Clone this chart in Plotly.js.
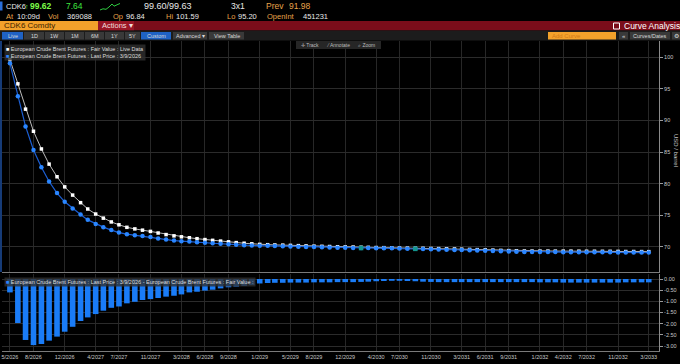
<!DOCTYPE html>
<html>
<head>
<meta charset="utf-8">
<script src="https://cdn.plot.ly/plotly-3.0.1.min.js"></script>
<style>html,body{margin:0;padding:0;background:#000;}#chart{width:680px;height:364px;}</style>
</head>
<body>
<div id="chart"></div>
<script>
// ---------- DATA ----------
const months = [
 '2026-05-01','2026-06-01','2026-07-01','2026-08-01','2026-09-01','2026-10-01','2026-11-01','2026-12-01',
 '2027-01-01','2027-02-01','2027-03-01','2027-04-01','2027-05-01','2027-06-01','2027-07-01','2027-08-01','2027-09-01','2027-10-01','2027-11-01','2027-12-01',
 '2028-01-01','2028-02-01','2028-03-01','2028-04-01','2028-05-01','2028-06-01','2028-07-01','2028-08-01','2028-09-01','2028-10-01','2028-11-01','2028-12-01',
 '2029-01-01','2029-02-01','2029-03-01','2029-04-01','2029-05-01','2029-06-01','2029-07-01','2029-08-01','2029-09-01','2029-10-01','2029-11-01','2029-12-01',
 '2030-01-01','2030-02-01','2030-03-01','2030-04-01','2030-05-01','2030-06-01','2030-07-01','2030-08-01','2030-09-01','2030-10-01','2030-11-01','2030-12-01',
 '2031-01-01','2031-02-01','2031-03-01','2031-04-01','2031-05-01','2031-06-01','2031-07-01','2031-08-01','2031-09-01','2031-10-01','2031-11-01','2031-12-01',
 '2032-01-01','2032-02-01','2032-03-01','2032-04-01','2032-05-01','2032-06-01','2032-07-01','2032-08-01','2032-09-01','2032-10-01','2032-11-01','2032-12-01',
 '2033-01-01','2033-02-01','2033-03-01'];

const fairValue = [
 99.65,95.8,91.8,88.3,85.5,83.1,81.1,79.5,78.2,77.0,76.0,75.2,74.55,73.95,73.5,73.1,72.85,72.65,72.45,72.2,
 71.95,71.75,71.6,71.45,71.30,71.16,71.04,70.92,70.80,70.68,70.58,70.49,70.40,70.35,70.31,70.28,70.24,70.20,70.16,70.12,
 70.09,70.06,70.02,70.00,69.98,69.95,69.93,69.90,69.88,69.85,69.83,69.81,69.79,69.78,69.75,69.73,69.70,69.67,69.64,69.60,
 69.57,69.53,69.49,69.45,69.41,69.38,69.35,69.34,69.34,69.34,69.33,69.33,69.33,69.32,69.31,69.31,69.30,69.30,69.29,69.27,
 69.27,69.26,69.25];

const lastPrice = [
 99.05,93.83,89.07,85.34,82.59,80.34,78.52,77.14,76.06,75.12,74.28,73.63,73.13,72.66,72.27,72.01,71.83,71.71,71.55,71.35,
 71.16,71.0,70.91,70.85,70.73,70.64,70.56,70.50,70.43,70.34,70.27,70.22,70.20,70.17,70.14,70.11,70.08,70.04,70.00,69.97,
 69.94,69.91,69.88,69.86,69.84,69.82,69.81,69.80,69.79,69.77,69.75,69.72,69.69,69.66,69.62,69.59,69.56,69.53,69.50,69.46,
 69.43,69.39,69.35,69.31,69.27,69.24,69.21,69.20,69.19,69.19,69.18,69.17,69.17,69.16,69.15,69.15,69.14,69.14,69.13,69.12,
 69.12,69.11,69.10];

const spread = [
 -0.60,-1.97,-2.73,-2.96,-2.91,-2.76,-2.58,-2.36,-2.14,-1.88,-1.72,-1.57,-1.42,-1.29,-1.23,-1.09,-1.02,-0.94,-0.90,-0.85,
 -0.79,-0.75,-0.69,-0.60,-0.57,-0.52,-0.48,-0.42,-0.37,-0.34,-0.31,-0.27,-0.20,-0.18,-0.17,-0.17,-0.16,-0.16,-0.16,-0.15,
 -0.15,-0.15,-0.14,-0.14,-0.14,-0.13,-0.12,-0.10,-0.09,-0.08,-0.08,-0.09,-0.10,-0.12,-0.13,-0.14,-0.14,-0.14,-0.14,-0.14,
 -0.14,-0.14,-0.14,-0.14,-0.14,-0.14,-0.14,-0.14,-0.15,-0.15,-0.15,-0.16,-0.16,-0.16,-0.16,-0.16,-0.16,-0.16,-0.16,-0.15,
 -0.15,-0.15,-0.15];

const markedDates = ['2030-02-01','2030-09-01'];
const markedValues = [69.82, 69.69];

const xTickVals = ['2026-05-01','2026-08-01','2026-12-01','2027-04-01','2027-07-01','2027-11-01','2028-03-01','2028-06-01',
 '2028-09-01','2029-01-01','2029-05-01','2029-08-01','2029-12-01','2030-04-01','2030-07-01','2030-11-01','2031-03-01',
 '2031-06-01','2031-09-01','2032-01-01','2032-04-01','2032-07-01','2032-11-01','2033-03-01'];
const xTickText = ['5/2026','8/2026','12/2026','4/2027','7/2027','11/2027','3/2028','6/2028','9/2028','1/2029','5/2029',
 '8/2029','12/2029','4/2030','7/2030','11/2030','3/2031','6/2031','9/2031','1/2032','4/2032','7/2032','11/2032','3/2033'];
const yTickVals = [70,75,80,85,90,95,100];
const y2TickVals = [-3,-2.5,-2,-1.5,-1,-0.5,0];
const y2TickText = ['-3.00','-2.50','-2.00','-1.50','-1.00','-0.50','0.00'];

// ---------- LAYOUT HELPERS (pixel -> paper) ----------
const W = 680, H = 364;
const px = v => v / W;
const py = v => 1 - v / H;

const shapes = [];
const annotations = [];
function rect(x0, y0, x1, y1, fill, extra) {
  shapes.push(Object.assign({type:'rect', xref:'paper', yref:'paper', x0:px(x0), x1:px(x1), y0:py(y1), y1:py(y0),
    fillcolor:fill, line:{width:0}}, extra || {}));
}
function txt(x, y, text, color, size, opts) {
  annotations.push(Object.assign({xref:'paper', yref:'paper', x:px(x), y:py(y), text:text, showarrow:false,
    xanchor:'left', yanchor:'middle', borderpad:0,
    font:{family:'Liberation Sans, Arial, sans-serif', size:size, color:color}}, opts || {}));
}

const amber = '#e7a34a', white = '#e8e8e8', green = '#3fe63f';
// Row 1
rect(0, 1.5, 2.5, 10.5, '#2a6fdc');
txt(4.5, 6, 'CDK6', white, 7.5);
txt(23.5, 6, '↑', green, 7);
txt(28.5, 6, '<b>99.62</b>', '#7dff4a', 8.5);
txt(65, 6, '7.64', green, 8.5);
shapes.push({type:'path', xref:'paper', yref:'paper', line:{color:'#2ecc40', width:1},
  path: 'M' + [[100,10],[103,8.8],[106,9.3],[109,7],[112,4],[114,6.2],[117,4.8],[120,3.5]]
    .map(p => px(p[0]) + ',' + py(p[1])).join(' L')});
txt(143, 6, '99.60/99.63', white, 9);
txt(230, 6, '3x1', white, 8.5);
txt(265, 6, 'Prev', amber, 8.5);
txt(288, 6, '91.98', amber, 8.5);
// Row 2
txt(4.5, 16.5, 'At', amber, 7.5);
txt(16, 16.5, '10:09d', white, 7.5);
txt(47, 16.5, 'Vol', amber, 7.5);
txt(66, 16.5, '369088', white, 7.5);
txt(112, 16.5, 'Op', amber, 7.5);
txt(125, 16.5, '96.84', white, 7.5);
txt(165, 16.5, 'Hi', amber, 7.5);
txt(175, 16.5, '101.59', white, 7.5);
txt(226, 16.5, 'Lo', amber, 7.5);
txt(237, 16.5, '95.20', white, 7.5);
txt(266, 16.5, 'OpenInt', amber, 7.5);
txt(302, 16.5, '451231', white, 7.5);
// Row 3
rect(0, 21, 98, 30.5, '#f3a12b');
txt(3, 25.8, 'CDK6 Comdty', '#3a2200', 8);
rect(98, 21, 680, 30.5, '#7b0d1a');
rect(98, 21, 134, 30.5, '#9a1626');
txt(101, 25.8, 'Actions ▾', '#f2dede', 7.5);
shapes.push({type:'rect', xref:'paper', yref:'paper', x0:px(613.5), x1:px(619.5), y0:py(29), y1:py(23),
  line:{color:'#ffffff', width:1}, fillcolor:'rgba(0,0,0,0)'});
txt(622.5, 25.8, 'Curve Analysis', '#ffffff', 8.5);
// Row 4
rect(0, 30.5, 680, 40.5, '#1c1c1c');
const btns = [[2,23,'Live','#1f62c4'],[24,44,'1D','#393939'],[45,64,'1W','#393939'],[65,84,'1M','#393939'],
  [85,104,'6M','#393939'],[105,124,'1Y','#393939'],[125,140,'5Y','#393939'],[141,171,'Custom','#1f62c4'],
  [173,207,'Advanced ▾','#393939'],[209,244,'View Table','#393939']];
btns.forEach(b => {
  rect(b[0], 32, b[1], 39.5, b[3]);
  txt((b[0] + b[1]) / 2, 35.8, b[2], '#d8d8d8', 5.5, {xanchor:'center'});
});
rect(548, 32, 616, 39.5, '#f3a12b');
txt(551, 35.8, 'Add Curve', '#d07a18', 6);
rect(619, 32, 628, 39.5, '#393939');
txt(623.5, 35.8, '«', '#d8d8d8', 6, {xanchor:'center'});
rect(630, 32, 670, 39.5, '#393939');
txt(650, 35.8, 'Curves/Dates', '#d8d8d8', 5.5, {xanchor:'center'});
rect(672, 32, 680, 39.5, '#393939');
txt(676, 35.8, '⚙', '#d8d8d8', 6, {xanchor:'center'});
// Row 5 toolbar (over plot)
rect(296, 41, 381, 49, '#262626');
txt(300, 45, '✛ Track', '#bdbdbd', 5);
txt(325, 45, '⁄ Annotate', '#bdbdbd', 5);
txt(357, 45, '⌕ Zoom', '#bdbdbd', 5);
// left edge highlight
shapes.push({type:'line', xref:'paper', yref:'paper', x0:px(1), x1:px(1), y0:py(272), y1:py(41),
  line:{color:'#1e4f9f', width:1.5}});

// legends
annotations.push({xref:'paper', yref:'paper', x:px(4), y:py(44), xanchor:'left', yanchor:'top', showarrow:false,
  align:'left', bgcolor:'rgba(48,48,48,0.8)', borderpad:1,
  font:{family:'Liberation Sans, Arial, sans-serif', size:5.5, color:'#dcdcdc'},
  text:'<span style="color:#ffffff">■</span> European Crude Brent Futures : Fair Value : Live Data<br>' +
       '<span style="color:#2a86ff">■</span> European Crude Brent Futures : Last Price : 3/9/2026'});
annotations.push({xref:'paper', yref:'paper', x:px(4), y:py(277), xanchor:'left', yanchor:'top', showarrow:false,
  align:'left', bgcolor:'rgba(48,48,48,0.8)', borderpad:1,
  font:{family:'Liberation Sans, Arial, sans-serif', size:5.5, color:'#dcdcdc'},
  text:'<span style="color:#2a86ff">■</span> European Crude Brent Futures : Last Price : 3/9/2026 - European Crude Brent Futures : Fair Value :'});
// y title
annotations.push({xref:'paper', yref:'paper', x:px(676), y:py(150), xanchor:'center', yanchor:'middle',
  showarrow:false, textangle:90, text:'USD / barrel',
  font:{family:'Liberation Sans, Arial, sans-serif', size:6, color:'#c8c8c8'}});

// ---------- TRACES ----------
const traces = [
  {type:'scatter', mode:'lines+markers', x:months, y:fairValue, xaxis:'x', yaxis:'y', name:'Fair Value',
   line:{color:'#bdbdbd', width:1}, marker:{symbol:'square', size:3.5, color:'#ffffff'}},
  {type:'scatter', mode:'lines+markers', x:months, y:lastPrice, xaxis:'x', yaxis:'y', name:'Last Price',
   line:{color:'#1c5fd4', width:1.2}, marker:{symbol:'circle', size:4.5, color:'#2a86ff'}},
  {type:'scatter', mode:'markers', x:markedDates, y:markedValues, xaxis:'x', yaxis:'y', name:'marks',
   marker:{symbol:'square', size:4.5, color:'#13968f'}},
  {type:'bar', x:months, y:spread, xaxis:'x2', yaxis:'y2', name:'Spread',
   marker:{color:'#1a7cf7', line:{width:0}}}
];

const fontAx = {family:'Liberation Sans, Arial, sans-serif', size:5.5, color:'#c8c8c8'};
const xRange = ['2026-03-31', '2033-04-10'];
const layout = {
  width:W, height:H, margin:{l:0, r:0, t:0, b:0},
  paper_bgcolor:'#000', plot_bgcolor:'#000', showlegend:false, bargap:0.22,
  xaxis:{type:'date', domain:[px(2), px(659)], range:xRange, anchor:'y', tickvals:xTickVals, ticktext:xTickText,
    showticklabels:false, showgrid:true, gridcolor:'#272727', gridwidth:1, showline:true, linecolor:'#7a7a7a',
    linewidth:1, zeroline:false, ticks:''},
  xaxis2:{type:'date', domain:[px(2), px(659)], range:xRange, anchor:'y2', matches:'x', tickvals:xTickVals,
    ticktext:xTickText, showticklabels:true, tickfont:fontAx, showgrid:true, gridcolor:'#272727',
    showline:true, linecolor:'#7a7a7a', linewidth:1, zeroline:false, ticks:'', tickangle:0},
  yaxis:{domain:[py(272), py(41)], range:[66.03, 102.58], side:'right', anchor:'x', tickvals:yTickVals,
    ticks:'outside', ticklen:3, tickcolor:'#9a9a9a', showline:true, linecolor:'#8a8a8a', linewidth:1,
    showgrid:true, gridcolor:'#2b2b2b', zeroline:false, tickfont:fontAx},
  yaxis2:{domain:[py(351), py(274)], range:[-3.224, 0.224], side:'right', anchor:'x2', tickvals:y2TickVals,
    ticktext:y2TickText, ticks:'outside', ticklen:3, tickcolor:'#9a9a9a', showline:true, linecolor:'#8a8a8a',
    linewidth:1, showgrid:true, gridcolor:'#2b2b2b', zeroline:false, tickfont:fontAx},
  shapes:shapes, annotations:annotations
};

Plotly.newPlot('chart', traces, layout, {staticPlot:true, displayModeBar:false});
</script>
</body>
</html>
